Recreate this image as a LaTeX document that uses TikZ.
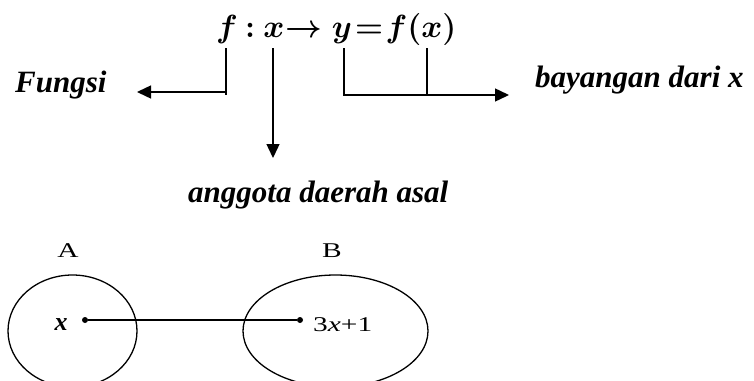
\RequirePackage{fix-cm}
\documentclass[tikz,border=0pt]{standalone}
\usepackage{bm}
\usepackage{fontspec}
\setmainfont{Liberation Serif}
\usepackage{graphicx}
\usetikzlibrary{arrows.meta,shapes.geometric}
\begin{document}
\begin{tikzpicture}[x=1pt,y=-1pt,
  conn/.style={line width=1.4pt},
  arr/.style={conn,-{Triangle[length=14pt,width=13pt]}},
  lbl/.style={font=\fontsize{31}{36}\selectfont\bfseries\itshape, inner sep=0pt, anchor=base west},
  eqs/.style={font=\fontsize{32}{36}\selectfont\boldmath, inner sep=0pt, anchor=base},
  setlbl/.style={font=\fontsize{21}{24}\selectfont, inner sep=0pt, anchor=base},
  setshape/.style={draw, line width=1.3pt, ellipse, inner sep=0pt},
  elem/.style={circle, fill, inner sep=0pt, minimum size=6pt}]
\useasboundingbox (0,0) rectangle (754,380);
\fill[white] (0,0) rectangle (754,380);
\clip (0,0) rectangle (754,380);
% equation
\node[eqs] (ef) at (227,37) {$\bm{f}$};
\node[eqs] (ecolon) at (250,37) {$\bm{:}$};
\node[eqs] (ex) at (274,37) {$\bm{x}$};
\node[eqs] (earrow) at (304,37) {$\unboldmath\rightarrow$};
\node[eqs] (ey) at (342,37) {$\bm{y}$};
\node[eqs] (eeq) at (369,37) {$\unboldmath=$};
\node[eqs] (efx) at (421,37) {$\bm{f}\unboldmath(\bm{x})$};
% connector points
\coordinate (f1) at (226,48);
\coordinate (f2) at (226,95);
\coordinate (f3) at (226,92);
\coordinate (x1) at (273,48);
\coordinate (y1) at (344,48);
\coordinate (y2) at (344,95);
\coordinate (fx1) at (427,48);
\coordinate (fx2) at (427,95);
% labels
\node[lbl] (fungsi) at (15,92) {Fungsi};
\node[lbl] (bayangan) at (535,87) {bayangan dari x};
\node[lbl] (anggota) at (188,202) {anggota daerah asal};
\coordinate (fungsiend) at (137,92);
\coordinate (bayend) at (509,95);
\coordinate (angend) at (273,158);
% connectors
\draw[conn] (f1) -- (f2);
\draw[arr] (f3) -- (fungsiend);
\draw[arr] (x1) -- (angend);
\draw[arr] (y1) -- (y2) -- (bayend);
\draw[conn] (fx1) -- (fx2);
% sets
\node[setlbl] (la) at (68,257) {\scalebox{1.4}[1]{A}};
\node[setlbl] (lb) at (332,257) {\scalebox{1.4}[1]{B}};
\node[setshape, minimum width=129pt, minimum height=112pt] (setA) at (72.5,331) {};
\node[setshape, minimum width=185pt, minimum height=112pt] (setB) at (335.5,331) {};
\node[elem] (dA) at (85,320) {};
\node[elem] (dB) at (300,320) {};
\draw[line width=1.3pt] (dA) -- (dB);
\node[setlbl, font=\fontsize{26}{28}\selectfont\bfseries\itshape] (xa) at (61,330) {x};
\node[setlbl, anchor=base west] (img) at (313,331) {\scalebox{1.4}[1]{3\textit{x}+1}};
\end{tikzpicture}
\end{document}
